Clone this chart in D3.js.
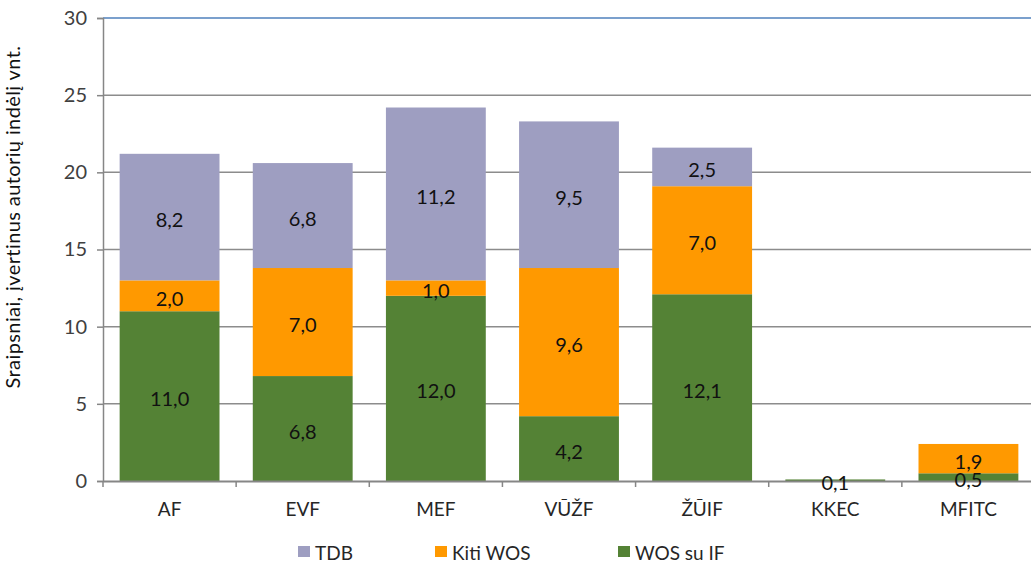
<!DOCTYPE html>
<html>
<head>
<meta charset="utf-8">
<script src="https://cdn.jsdelivr.net/npm/d3@7"></script>
<style>
  body { margin: 0; background: #fff; }
  svg { display: block; font-family: Lato, "Open Sans", sans-serif; }
</style>
</head>
<body>
<svg id="chart" width="1031" height="565"></svg>
<script>
const categories = ["AF", "EVF", "MEF", "VŪŽF", "ŽŪIF", "KKEC", "MFITC"];
const wosSuIF = [11.0, 6.8, 12.0, 4.2, 12.1, 0.1, 0.5];
const kitiWOS = [2.0, 7.0, 1.0, 9.6, 7.0, 0, 1.9];
const tdb = [8.2, 6.8, 11.2, 9.5, 2.5, 0, 0];
const seriesNames = ["WOS su IF", "Kiti WOS", "TDB"];
const legendOrder = ["TDB", "Kiti WOS", "WOS su IF"];
const yTicks = [0, 5, 10, 15, 20, 25, 30];
const yTitle = "Sraipsniai, įvertinus autorių indėlį vnt.";

const colors = { "WOS su IF": "#548235", "Kiti WOS": "#FF9900", "TDB": "#9E9EC1" };

const svg = d3.select("#chart");
const L = 103, R = 1035, T = 18, B = 481;

const x = d3.scaleBand().domain(categories).range([L, R]).paddingInner(0.25).paddingOuter(0.125);
const y = d3.scaleLinear().domain([0, 30]).range([B, T]);

const rows = categories.map((c, i) => ({ cat: c, "WOS su IF": wosSuIF[i], "Kiti WOS": kitiWOS[i], "TDB": tdb[i] }));
const stacked = d3.stack().keys(seriesNames)(rows);

// gridlines
svg.append("g").selectAll("line").data(yTicks.filter(t => t > 0)).join("line")
  .attr("x1", L).attr("x2", R)
  .attr("y1", d => y(d)).attr("y2", d => y(d))
  .attr("stroke", d => d === 30 ? "#4F81BD" : "#8C8C8C")
  .attr("stroke-width", 1.5);

// bars
const g = svg.append("g");
stacked.forEach(s => {
  g.append("g").attr("fill", colors[s.key]).selectAll("rect").data(s).join("rect")
    .attr("x", d => x(d.data.cat))
    .attr("width", x.bandwidth())
    .attr("y", d => y(d[1]))
    .attr("height", d => y(d[0]) - y(d[1]));
});

// axes
const yAxis = svg.append("g").attr("transform", `translate(${L},0)`)
  .call(d3.axisLeft(y).tickValues(yTicks).tickSize(6).tickPadding(10));
yAxis.select(".domain").attr("stroke", "#868686").attr("stroke-width", 1.5);
yAxis.selectAll(".tick line").attr("stroke", "#868686").attr("stroke-width", 1.5);
yAxis.selectAll(".tick text").attr("font-size", 20).attr("fill", "#404040").attr("font-family", "Lato, sans-serif");

const xAxis = svg.append("g").attr("transform", `translate(0,${B})`)
  .call(d3.axisBottom(x).tickSize(0).tickPadding(22));
xAxis.select(".domain").attr("stroke", "#868686").attr("stroke-width", 2);
xAxis.selectAll(".tick text").attr("font-size", 19).attr("fill", "#262626").attr("font-family", "Lato, sans-serif");

// x ticks between categories
const bounds = d3.range(categories.length + 1).map(i => L + i * x.step());
svg.append("g").selectAll("line").data(bounds).join("line")
  .attr("x1", d => d).attr("x2", d => d)
  .attr("y1", B).attr("y2", B + 6)
  .attr("stroke", "#868686").attr("stroke-width", 1.5);

// value labels
const fmt = v => v.toFixed(1).replace(".", ",");
stacked.forEach(s => {
  svg.append("g").selectAll("text").data(s.filter(d => (d[1] - d[0]) > 0)).join("text")
    .attr("x", d => x(d.data.cat) + x.bandwidth() / 2)
    .attr("y", d => (y(d[0]) + y(d[1])) / 2 + 2)
    .attr("text-anchor", "middle")
    .attr("dominant-baseline", "central")
    .attr("font-size", 20)
    .attr("fill", "#111")
    .text(d => fmt(d[1] - d[0]));
});

// y title
svg.append("text")
  .attr("transform", `translate(20,217) rotate(-90)`)
  .attr("text-anchor", "middle")
  .attr("font-size", 20)
  .attr("letter-spacing", 0.4)
  .attr("fill", "#111")
  .text(yTitle);

// legend
const legendX = [298, 435, 618];
const lg = svg.append("g");
legendOrder.forEach((name, i) => {
  lg.append("rect").attr("x", legendX[i]).attr("y", 546).attr("width", 12).attr("height", 11).attr("fill", colors[name]);
  lg.append("text").attr("x", legendX[i] + 17).attr("y", 552).attr("dominant-baseline", "central")
    .attr("font-size", 19).attr("fill", "#262626").text(name);
});
</script>
</body>
</html>
